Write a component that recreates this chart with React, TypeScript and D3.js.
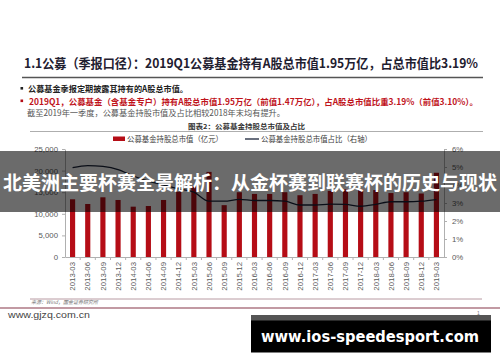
import * as d3 from "d3";
import * as React from "react";

const quarters = [
    "2013-03", "2013-06", "2013-09", "2013-12",
    "2014-03", "2014-06", "2014-09", "2014-12",
    "2015-03", "2015-06", "2015-09", "2015-12",
    "2016-03", "2016-06", "2016-09", "2016-12",
    "2017-03", "2017-06", "2017-09", "2017-12",
    "2018-03", "2018-06", "2018-09", "2018-12",
    "2019-03",
];
// 公募基金持股总市值（亿元）
const holdings = [
    13360, 12270, 13820, 13200,
    11650, 11800, 13200, 15100,
    16400, 19700, 12000, 15000,
    14600, 14600, 15000, 14300,
    14600, 15300, 15700, 15700,
    15500, 14800, 15000, 14700,
    19500,
];
// 占比（右轴）
const ratio = [
    4.96, 5.08, 5.03, 4.86,
    4.5, 4.22, 4.0, 3.78,
    3.6, 3.1, 3.1, 3.2,
    3.14, 3.14, 3.1, 2.89,
    2.89, 2.94, 2.92, 2.82,
    2.92, 3.07, 3.07, 3.1,
    3.19,
];
const leftTicks = [0, 5000, 10000, 15000, 20000, 25000];
const rightTicks = [0, 1, 2, 3, 4, 5, 6];

const CJK = "'Noto Sans CJK SC', 'Liberation Sans', sans-serif";
const LAT = "'Liberation Sans', Arial, sans-serif";
const RED = "#b50d16";

export default class App extends React.Component<{}, {}> {
    mountRef: SVGSVGElement;

    componentDidMount() {
        const svg = d3.select(this.mountRef);
        const W = 500;
        const plot = { left: 65, right: 444, top: 149, bottom: 257 };

        const x = d3.scaleBand()
            .domain(quarters)
            .range([plot.left, plot.right])
            .paddingInner(0.66)
            .paddingOuter(0.33);
        const yL = d3.scaleLinear().domain([0, 25000]).range([plot.bottom, plot.top]);
        const yR = d3.scaleLinear().domain([0, 6]).range([plot.bottom, plot.top]);

        svg.append("rect").attr("width", W).attr("height", 362).attr("fill", "#fff");

        // title block
        svg.append("text")
            .attr("x", 24).attr("y", 68)
            .attr("textLength", 454).attr("lengthAdjust", "spacingAndGlyphs")
            .attr("font-family", CJK).attr("font-weight", "bold").attr("font-size", 13)
            .attr("fill", "#1f2030")
            .text("1.1公募（季报口径）：2019Q1公募基金持有A股总市值1.95万亿，占总市值比3.19%");
        svg.append("line")
            .attr("x1", 22).attr("x2", 483).attr("y1", 77.5).attr("y2", 77.5)
            .attr("stroke", "#555").attr("stroke-width", 1.4);

        svg.append("rect").attr("x", 20.5).attr("y", 87).attr("width", 2.6).attr("height", 2.6).attr("fill", "#222");
        svg.append("text")
            .attr("x", 28).attr("y", 92)
            .attr("textLength", 160).attr("lengthAdjust", "spacingAndGlyphs")
            .attr("font-family", CJK).attr("font-weight", "bold").attr("font-size", 8.5)
            .attr("fill", "#222")
            .text("公募基金季报定期披露其持有的A股总市值。");

        svg.append("rect").attr("x", 20.5).attr("y", 99.5).attr("width", 2.6).attr("height", 2.6).attr("fill", RED);
        svg.append("text")
            .attr("x", 29).attr("y", 104.5)
            .attr("textLength", 449).attr("lengthAdjust", "spacingAndGlyphs")
            .attr("font-family", CJK).attr("font-weight", "bold").attr("font-size", 8.5)
            .attr("fill", "#c0141c")
            .text("2019Q1，公募基金（含基金专户）持有A股总市值1.95万亿（前值1.47万亿），占A股总市值比重3.19%（前值3.10%）。");
        svg.append("text")
            .attr("x", 27).attr("y", 115.5)
            .attr("textLength", 258).attr("lengthAdjust", "spacingAndGlyphs")
            .attr("font-family", CJK).attr("font-size", 8.3)
            .attr("fill", "#555")
            .text("截至2019年一季度，公募基金持股市值及占比相较2018年末均有提升。");

        svg.append("text")
            .attr("x", 188).attr("y", 129)
            .attr("textLength", 117).attr("lengthAdjust", "spacingAndGlyphs")
            .attr("font-family", CJK).attr("font-weight", "bold").attr("font-size", 6.5)
            .attr("fill", "#333")
            .text("图表2：公募基金持股总市值及占比");
        svg.append("line")
            .attr("x1", 30).attr("x2", 483).attr("y1", 131.5).attr("y2", 131.5)
            .attr("stroke", "#999").attr("stroke-width", 0.8);

        // legend
        svg.append("rect").attr("x", 113).attr("y", 136.5).attr("width", 12).attr("height", 4.5).attr("fill", RED);
        svg.append("text")
            .attr("x", 127).attr("y", 141.8)
            .attr("textLength", 96).attr("lengthAdjust", "spacingAndGlyphs")
            .attr("font-family", CJK).attr("font-size", 7.5).attr("fill", "#404040")
            .text("公募基金持股总市值（亿元）");
        svg.append("line")
            .attr("x1", 245).attr("x2", 259).attr("y1", 139).attr("y2", 139)
            .attr("stroke", "#1a2238").attr("stroke-width", 1.3);
        svg.append("text")
            .attr("x", 261).attr("y", 141.8)
            .attr("textLength", 111).attr("lengthAdjust", "spacingAndGlyphs")
            .attr("font-family", CJK).attr("font-size", 7.5).attr("fill", "#404040")
            .text("公募基金持股总市值占比（右轴）");

        // bars
        svg.append("g")
            .selectAll("rect")
            .data(quarters)
            .join("rect")
            .attr("x", (q) => x(q)!)
            .attr("width", x.bandwidth())
            .attr("y", (q, i) => yL(holdings[i]))
            .attr("height", (q, i) => plot.bottom - yL(holdings[i]))
            .attr("fill", RED);

        // ratio line
        const line = d3.line<number>()
            .x((d, i) => x(quarters[i])! + x.bandwidth() / 2)
            .y((d) => yR(d))
            .curve(d3.curveMonotoneX);
        svg.append("path")
            .attr("d", line(ratio)!)
            .attr("fill", "none")
            .attr("stroke", "#1a2238")
            .attr("stroke-width", 1.3);

        // axes
        const axisStyle = (g: d3.Selection<SVGGElement, unknown, null, undefined>) => g
            .call((g) => g.selectAll(".domain").attr("stroke", "#b0b0b0"))
            .call((g) => g.selectAll(".tick line").attr("stroke", "#b0b0b0"))
            .call((g) => g.selectAll(".tick text")
                .attr("fill", "#595959")
                .attr("font-family", LAT)
                .attr("font-size", 7.8));

        svg.append("g")
            .attr("transform", `translate(${plot.left},0)`)
            .call(d3.axisLeft(yL).tickValues(leftTicks).tickSize(3).tickPadding(4).tickSizeOuter(0))
            .call(axisStyle);

        svg.append("g")
            .attr("transform", `translate(${plot.right},0)`)
            .call(d3.axisRight(yR).tickValues(rightTicks).tickSize(3).tickPadding(5).tickSizeOuter(0)
                .tickFormat((d) => `${d}%`))
            .call(axisStyle);

        svg.append("g")
            .attr("transform", `translate(0,${plot.bottom})`)
            .call(d3.axisBottom(x).tickSize(0).tickSizeOuter(0))
            .call(axisStyle)
            .call((g) => g.selectAll(".tick text")
                .attr("transform", "rotate(-90)")
                .attr("x", -5)
                .attr("y", 0)
                .attr("dy", "0.35em")
                .attr("text-anchor", "end"));

        // category separators on x axis
        svg.append("g")
            .selectAll("line")
            .data(quarters.slice(1))
            .join("line")
            .attr("x1", (q) => x(q)! - x.step() * x.paddingInner() / 2)
            .attr("x2", (q) => x(q)! - x.step() * x.paddingInner() / 2)
            .attr("y1", plot.bottom)
            .attr("y2", plot.bottom + 3)
            .attr("stroke", "#b0b0b0");

        // footer
        svg.append("line")
            .attr("x1", 30).attr("x2", 482).attr("y1", 299).attr("y2", 299)
            .attr("stroke", "#b89aa2").attr("stroke-width", 1);
        svg.append("text")
            .attr("x", 31).attr("y", 304)
            .attr("font-family", CJK).attr("font-size", 5).attr("font-style", "italic")
            .attr("fill", "#777")
            .text("来源：Wind，国金证券研究所");
        svg.append("line")
            .attr("x1", 0).attr("x2", W).attr("y1", 308).attr("y2", 308)
            .attr("stroke", "#c29aa3").attr("stroke-width", 2);
        svg.append("text")
            .attr("x", 8).attr("y", 318)
            .attr("textLength", 82).attr("lengthAdjust", "spacingAndGlyphs")
            .attr("font-family", LAT).attr("font-size", 8.5)
            .attr("fill", "#444")
            .text("www.gjzq.com.cn");
        svg.append("text")
            .attr("x", 477).attr("y", 315)
            .attr("font-family", LAT).attr("font-size", 5)
            .attr("fill", "#777")
            .text("1");

        // overlay banner
        svg.append("rect")
            .attr("x", 0).attr("y", 151).attr("width", W).attr("height", 61)
            .attr("fill", "#000").attr("fill-opacity", 0.58);
        svg.append("text")
            .attr("x", 3).attr("y", 190)
            .attr("textLength", 494).attr("lengthAdjust", "spacingAndGlyphs")
            .attr("font-family", CJK).attr("font-weight", "bold").attr("font-size", 19)
            .attr("fill", "#fff")
            .text("北美洲主要杯赛全景解析：从金杯赛到联赛杯的历史与现状");

        // watermark box
        svg.append("rect")
            .attr("x", 251).attr("y", 315).attr("width", 240).attr("height", 6)
            .attr("fill", "#555");
        svg.append("rect")
            .attr("x", 251).attr("y", 320.5).attr("width", 240).attr("height", 32)
            .attr("fill", "#000");
        svg.append("text")
            .attr("x", 261).attr("y", 342)
            .attr("textLength", 218).attr("lengthAdjust", "spacingAndGlyphs")
            .attr("font-family", "'DejaVu Sans', sans-serif").attr("font-weight", "bold").attr("font-size", 15.5)
            .attr("fill", "#fff")
            .text("www.ios-speedesport.com");
    }

    render() {
        return (
            <svg
                ref={(ref) => (this.mountRef = ref!)}
                width={500}
                height={362}
                style={{ position: "absolute", left: 0, top: 0, display: "block" }}
            />
        );
    }
}
